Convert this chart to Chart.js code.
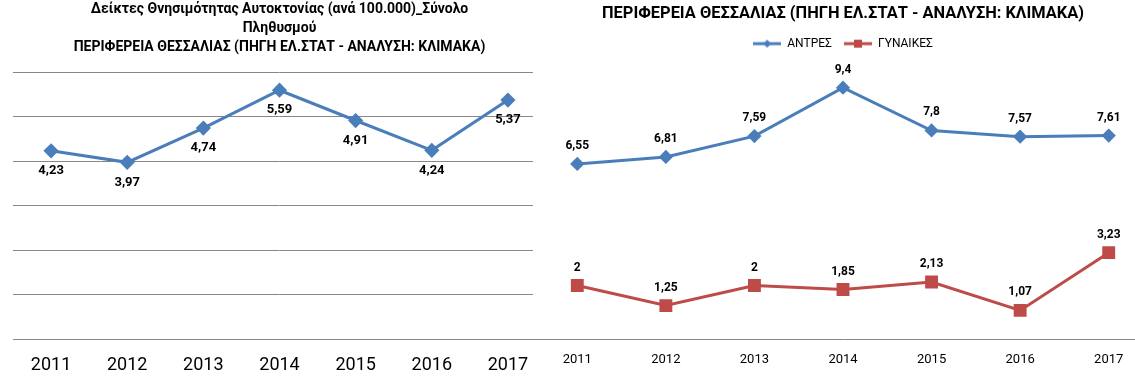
<!DOCTYPE html>
<html>
<head>
<meta charset="utf-8">
<script src="https://cdn.jsdelivr.net/npm/chart.js@4"></script>
<style>
  html, body { margin: 0; padding: 0; background: #fff; overflow: hidden; }
  #wrap { position: relative; width: 1135px; height: 377px; }
  #left { position: absolute; left: 0; top: 0; }
  #right { position: absolute; left: 533px; top: 0; background: #fff; }
</style>
</head>
<body>
<div id="wrap">
  <canvas id="left" width="546" height="377"></canvas>
  <canvas id="right" width="620" height="377"></canvas>
</div>
<script>
// data
const years = ['2011', '2012', '2013', '2014', '2015', '2016', '2017'];
const totalRate = [4.23, 3.97, 4.74, 5.59, 4.91, 4.24, 5.37];
const menRate = [6.55, 6.81, 7.59, 9.4, 7.8, 7.57, 7.61];
const womenRate = [2, 1.25, 2, 1.85, 2.13, 1.07, 3.23];

const leftTitle = [
  'Δείκτες Θνησιμότητας Αυτοκτονίας (ανά 100.000)_Σύνολο',
  'Πληθυσμού',
  'ΠΕΡΙΦΕΡΕΙΑ ΘΕΣΣΑΛΙΑΣ (ΠΗΓΗ ΕΛ.ΣΤΑΤ - ΑΝΑΛΥΣΗ: ΚΛΙΜΑΚΑ)'
];
const rightTitle = 'ΠΕΡΙΦΕΡΕΙΑ ΘΕΣΣΑΛΙΑΣ (ΠΗΓΗ ΕΛ.ΣΤΑΤ - ΑΝΑΛΥΣΗ: ΚΛΙΜΑΚΑ)';
const seriesNames = ['ΑΝΤΡΕΣ', 'ΓΥΝΑΙΚΕΣ'];

const blue = '#4A7EBB';
const red = '#BE4B48';
const grey = '#878787';
const FONT = 'Roboto, "Noto Sans", sans-serif';

Chart.defaults.font.family = FONT;
Chart.defaults.color = '#000';

// value labels drawn next to each point
const valueLabels = {
  id: 'valueLabels',
  afterDatasetsDraw(chart, args, opts) {
    const ctx = chart.ctx;
    ctx.save();
    ctx.font = opts.font;
    ctx.fillStyle = '#000';
    ctx.textAlign = 'center';
    ctx.textBaseline = 'middle';
    chart.data.datasets.forEach((ds, i) => {
      chart.getDatasetMeta(i).data.forEach((pt, j) => {
        ctx.fillText(String(ds.data[j]).replace('.', ','), pt.x, pt.y + opts.offset);
      });
    });
    ctx.restore();
  }
};

// extra room under the legend, like the excel plot area
const legendGap = {
  id: 'legendGap',
  beforeInit(chart) {
    const legend = chart.legend;
    if (!legend) return;
    const fit = legend.fit;
    legend.fit = function () {
      fit.call(this);
      this.height += 12;
    };
  }
};

// small line+marker picture for legend entries
function legendMark(color, shape) {
  const c = document.createElement('canvas');
  c.width = 28; c.height = 10;
  const g = c.getContext('2d');
  g.strokeStyle = color; g.lineWidth = 3;
  g.beginPath(); g.moveTo(0, 5); g.lineTo(28, 5); g.stroke();
  g.fillStyle = color;
  g.beginPath();
  if (shape === 'diamond') {
    g.moveTo(14, 1); g.lineTo(18, 5); g.lineTo(14, 9); g.lineTo(10, 5);
  } else {
    g.rect(10, 1, 8, 8);
  }
  g.fill();
  return c;
}
const marks = [legendMark(blue, 'diamond'), legendMark(red, 'square')];

new Chart(document.getElementById('left'), {
  type: 'line',
  data: {
    labels: years,
    datasets: [{
      data: totalRate,
      borderColor: blue,
      backgroundColor: blue,
      borderWidth: 3,
      pointStyle: 'rectRot',
      pointRadius: 5.5,
      tension: 0,
    }]
  },
  options: {
    responsive: false,
    animation: false,
    layout: { autoPadding: false, padding: { top: 0, left: 13, right: 0, bottom: 0 } },
    plugins: {
      legend: { display: false },
      tooltip: { enabled: false },
      title: {
        display: true,
        text: leftTitle,
        font: { size: 14, weight: 'bold', lineHeight: '19px' },
        padding: { top: 0, bottom: 15 },
      },
      valueLabels: { font: 'bold 13px ' + FONT, offset: 20 },
    },
    scales: {
      x: {
        offset: true,
        grid: { display: false },
        border: { display: true, color: grey, width: 1 },
        ticks: { font: { size: 18 }, padding: 8, maxRotation: 0 },
        afterFit: s => { s.height = 38; },
      },
      y: {
        min: 0,
        max: 6,
        ticks: { display: false, stepSize: 1 },
        grid: { color: grey, drawTicks: false },
        border: { display: false },
        afterFit: s => { s.width = 0; },
      }
    }
  },
  plugins: [valueLabels]
});

new Chart(document.getElementById('right'), {
  type: 'line',
  data: {
    labels: years,
    datasets: [{
      label: seriesNames[0],
      data: menRate,
      borderColor: blue,
      backgroundColor: blue,
      borderWidth: 3,
      pointStyle: 'rectRot',
      pointRadius: 5,
      tension: 0,
    }, {
      label: seriesNames[1],
      data: womenRate,
      borderColor: red,
      backgroundColor: red,
      borderWidth: 3,
      pointStyle: 'rect',
      pointRadius: 7,
      tension: 0,
    }]
  },
  options: {
    responsive: false,
    animation: false,
    layout: { autoPadding: false, padding: 0 },
    plugins: {
      tooltip: { enabled: false },
      title: {
        display: true,
        text: rightTitle,
        font: { size: 16.4, weight: 'bold' },
        padding: { top: 4, bottom: 2 },
      },
      legend: {
        display: true,
        labels: {
          usePointStyle: true,
          pointStyleWidth: 28,
          font: { size: 12 },
          padding: 12,
          generateLabels: chart =>
            Chart.defaults.plugins.legend.labels.generateLabels(chart)
              .map((l, i) => Object.assign(l, { pointStyle: marks[i] })),
        },
      },
      valueLabels: { font: 'bold 12px ' + FONT, offset: -18 },
    },
    scales: {
      x: {
        offset: true,
        grid: { display: false },
        border: { display: true, color: grey, width: 1 },
        ticks: { font: { size: 13 }, padding: 5, maxRotation: 0 },
        afterFit: s => { s.height = 38; },
      },
      y: {
        display: false,
        min: 0,
        max: 10,
      }
    }
  },
  plugins: [valueLabels, legendGap]
});
</script>
</body>
</html>
